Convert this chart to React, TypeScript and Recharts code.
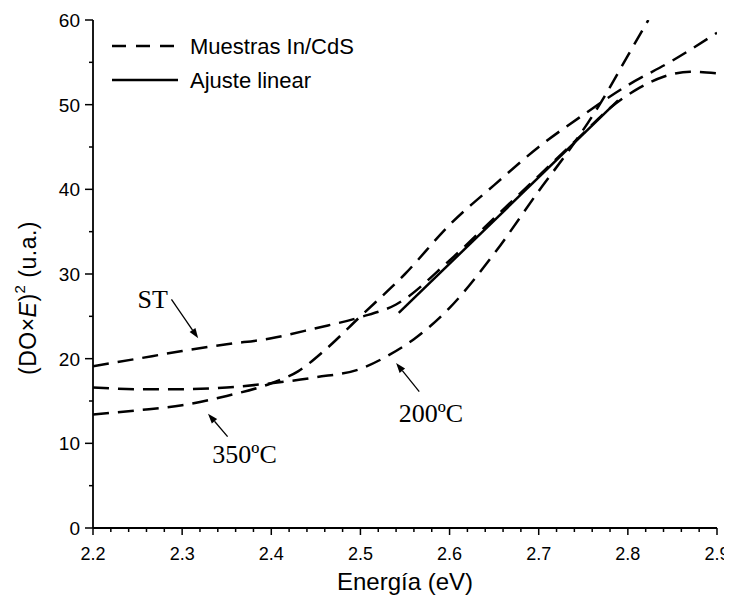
import { LineChart, Line, XAxis, YAxis, Legend, ReferenceLine, ReferenceDot } from 'recharts'

// energy (eV) and (DO x E)^2 values
const stX = [2.2, 2.25, 2.3, 2.35, 2.4, 2.45, 2.5, 2.54, 2.6, 2.65, 2.7, 2.75, 2.78, 2.81, 2.84, 2.87, 2.9]
const stY = [19.1, 20.0, 20.9, 21.7, 22.4, 23.6, 24.9, 26.4, 31.6, 36.6, 41.6, 46.6, 49.6, 51.8, 53.3, 53.9, 53.7]

const t200X = [2.2, 2.25, 2.3, 2.35, 2.4, 2.45, 2.5, 2.53, 2.56, 2.6, 2.65, 2.7, 2.74, 2.77, 2.8, 2.823]
const t200Y = [16.6, 16.4, 16.4, 16.6, 17.1, 17.8, 18.8, 20.3, 22.3, 26.0, 32.4, 39.8, 45.5, 50.3, 55.8, 60]

const t350X = [2.2, 2.25, 2.3, 2.35, 2.4, 2.43, 2.46, 2.5, 2.55, 2.6, 2.65, 2.7, 2.75, 2.8, 2.85, 2.9]
const t350Y = [13.4, 13.9, 14.5, 15.6, 17.1, 18.5, 21.0, 25.0, 30.0, 35.8, 40.5, 45.0, 48.8, 52.3, 55.2, 58.5]

const fitX = [2.543, 2.789]
const fitY = [25.4, 50.5]

const xTicks = [
  2.2, 2.22, 2.24, 2.26, 2.28, 2.3, 2.32, 2.34, 2.36, 2.38, 2.4, 2.42, 2.44, 2.46, 2.48, 2.5, 2.52, 2.54,
  2.56, 2.58, 2.6, 2.62, 2.64, 2.66, 2.68, 2.7, 2.72, 2.74, 2.76, 2.78, 2.8, 2.82, 2.84, 2.86, 2.88, 2.9,
]
const yTicks = [0, 5, 10, 15, 20, 25, 30, 35, 40, 45, 50, 55, 60]

const SANS = '"Liberation Sans", Arial, sans-serif'
const SERIF = '"Liberation Serif", "Times New Roman", serif'
const DASH = '16 9'

const zip = (xs: number[], ys: number[]) => xs.map((x, i) => ({ x, y: ys[i] }))

function XTick(props: any) {
  const { x, y, payload } = props
  const v = payload.value
  const major = Math.abs(v * 10 - Math.round(v * 10)) < 1e-6
  return (
    <g>
      <line x1={x} x2={x} y1={y} y2={y + (major ? 7 : 4)} stroke="#000" strokeWidth={1.5} />
      {major && (
        <text x={x} y={y + 32} textAnchor="middle" fontSize={18} fontFamily={SANS} fill="#000">
          {v.toFixed(1)}
        </text>
      )}
    </g>
  )
}

function YTick(props: any) {
  const { x, y, payload } = props
  const v = payload.value
  const major = v % 10 === 0
  return (
    <g>
      <line x1={x - (major ? 8 : 4)} x2={x} y1={y} y2={y} stroke="#000" strokeWidth={1.5} />
      {major && (
        <text x={x - 13} y={y + 7} textAnchor="end" fontSize={19} fontFamily={SANS} fill="#000">
          {v}
        </text>
      )}
    </g>
  )
}

function Arrow(props: any) {
  const { x1, y1, x2, y2 } = props
  const a = Math.atan2(y2 - y1, x2 - x1)
  const len = 10
  const w = 3.5
  const bx = x2 - len * Math.cos(a)
  const by = y2 - len * Math.sin(a)
  const px = -Math.sin(a) * w
  const py = Math.cos(a) * w
  return (
    <g>
      <line x1={x1} y1={y1} x2={bx} y2={by} stroke="#000" strokeWidth={1.3} />
      <polygon points={`${x2},${y2} ${bx + px},${by + py} ${bx - px},${by - py}`} fill="#000" />
    </g>
  )
}

const note = (text: string) => (p: any) => (
  <text x={p.cx} y={p.cy} textAnchor="middle" dominantBaseline="central" fontSize={26} fontFamily={SERIF} fill="#000">
    {text}
  </text>
)

function LegendBox() {
  return (
    <svg width={300} height={70} style={{ overflow: 'visible' }}>
      <line x1={0} x2={64} y1={12} y2={12} stroke="#000" strokeWidth={2.5} strokeDasharray="14 10" />
      <text x={78} y={20} fontSize={22} fontFamily={SANS} fill="#000">Muestras In/CdS</text>
      <line x1={0} x2={66} y1={46} y2={46} stroke="#000" strokeWidth={2.5} />
      <text x={78} y={54} fontSize={22} fontFamily={SANS} fill="#000">Ajuste linear</text>
    </svg>
  )
}

export default function App() {
  return (
    <LineChart width={724} height={591} margin={{ top: 12, right: 15, left: 25, bottom: 11 }}>
      <XAxis
        dataKey="x"
        type="number"
        domain={[2.2, 2.9]}
        ticks={xTicks}
        interval={0}
        allowDataOverflow
        height={60}
        stroke="#000"
        strokeWidth={1.8}
        tickLine={false}
        tickSize={0}
        tickMargin={0}
        tick={<XTick />}
        label={({ viewBox }: any) => (
          <text
            x={viewBox.x + viewBox.width / 2}
            y={viewBox.y + 62}
            textAnchor="middle"
            fontSize={24}
            fontFamily={SANS}
            fill="#000"
          >
            Energía (eV)
          </text>
        )}
      />
      <YAxis
        type="number"
        domain={[0, 60]}
        ticks={yTicks}
        interval={0}
        allowDataOverflow
        width={60}
        stroke="#000"
        strokeWidth={1.8}
        tickLine={false}
        tickSize={0}
        tickMargin={0}
        tick={<YTick />}
        label={({ viewBox }: any) => {
          const cx = viewBox.x - 5
          const cy = viewBox.y + viewBox.height / 2 + 24
          return (
            <text
              x={cx}
              y={cy}
              transform={`rotate(-90 ${cx} ${cy})`}
              textAnchor="middle"
              dominantBaseline="central"
              fontSize={23}
              letterSpacing={0.5}
              fontFamily={SANS}
              fill="#000"
            >
              (DO×<tspan fontStyle="italic">E</tspan>)<tspan dy={-9} fontSize={15}>2</tspan>
              <tspan dy={9}> (u.a.)</tspan>
            </text>
          )
        }}
      />
      <Legend
        layout="vertical"
        align="center"
        verticalAlign="middle"
        wrapperStyle={{ top: 26, left: 104, width: 300, height: 70 }}
        content={() => <LegendBox />}
      />
      <Line data={zip(stX, stY)} dataKey="y" type="monotone" stroke="#000" strokeWidth={2.5} strokeDasharray={DASH} dot={false} isAnimationActive={false} />
      <Line data={zip(t200X, t200Y)} dataKey="y" type="monotone" stroke="#000" strokeWidth={2.5} strokeDasharray={DASH} dot={false} isAnimationActive={false} />
      <Line data={zip(t350X, t350Y)} dataKey="y" type="monotone" stroke="#000" strokeWidth={2.5} strokeDasharray={DASH} dot={false} isAnimationActive={false} />
      <Line data={zip(fitX, fitY)} dataKey="y" type="linear" stroke="#000" strokeWidth={2.5} dot={false} isAnimationActive={false} />

      <ReferenceLine segment={[{ x: 2.288, y: 27.0 }, { x: 2.318, y: 22.4 }]} shape={<Arrow />} />
      <ReferenceLine segment={[{ x: 2.566, y: 16.1 }, { x: 2.54, y: 19.5 }]} shape={<Arrow />} />
      <ReferenceLine segment={[{ x: 2.351, y: 10.8 }, { x: 2.329, y: 13.5 }]} shape={<Arrow />} />

      <ReferenceDot x={2.267} y={27.0} r={0} shape={note('ST')} />
      <ReferenceDot x={2.579} y={13.5} r={0} shape={note('200ºC')} />
      <ReferenceDot x={2.37} y={8.7} r={0} shape={note('350ºC')} />
    </LineChart>
  )
}
